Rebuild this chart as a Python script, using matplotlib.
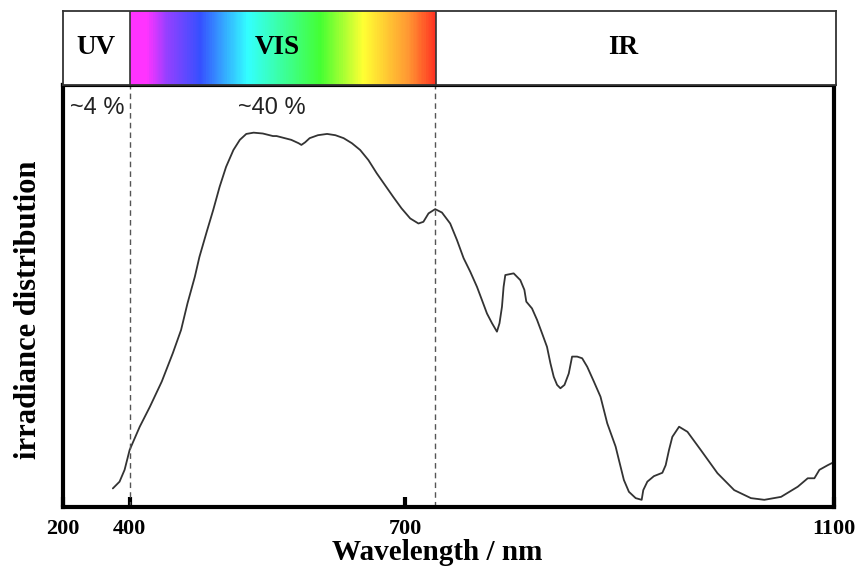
import numpy as np
import matplotlib
matplotlib.use("Agg")
import matplotlib.pyplot as plt
from matplotlib.colors import LinearSegmentedColormap

# irradiance curve (wavelength in nm, relative irradiance)
wavelength = [350, 370, 385, 400, 411, 422, 435, 447, 456, 463, 471, 476, 484, 491,
              498, 505, 513, 520, 527, 535, 545, 556, 560, 576, 584, 587, 591, 596,
              605, 615, 624, 633, 642, 651, 660, 669, 678, 687, 696, 704.7, 712.4,
              717, 721.8, 728, 734.3, 742, 748.3, 754.5, 760.7, 767, 771.6, 776.3,
              781, 785.6, 788, 790.3, 791.8, 793.4, 801.2, 807.4, 811.2, 813, 818.3,
              823, 827.7, 832.3, 835.5, 838.6, 841.7, 844.8, 848.6, 852.6, 855.7,
              860.4, 865.1, 869.8, 876, 882.2, 888.5, 896.3, 899.4, 904, 908.7, 915,
              920.6, 922.1, 925.9, 932, 939.9, 943, 946.1, 949.2, 955.5, 963.3,
              975.7, 991.3, 1006.9, 1022.5, 1035, 1050.6, 1066.2, 1075.5, 1081.7,
              1086.4, 1094.2, 1098.9]
irradiance = [0.044, 0.060, 0.088, 0.135, 0.190, 0.237, 0.297, 0.364, 0.419, 0.482,
              0.545, 0.592, 0.652, 0.703, 0.758, 0.805, 0.845, 0.869, 0.883, 0.886,
              0.884, 0.878, 0.878, 0.869, 0.861, 0.857, 0.863, 0.873, 0.880, 0.883,
              0.880, 0.873, 0.861, 0.845, 0.821, 0.790, 0.762, 0.734, 0.707, 0.683,
              0.671, 0.675, 0.695, 0.705, 0.697, 0.671, 0.632, 0.589, 0.557, 0.521,
              0.490, 0.458, 0.435, 0.415, 0.435, 0.474, 0.521, 0.549, 0.553, 0.537,
              0.514, 0.486, 0.470, 0.443, 0.411, 0.379, 0.340, 0.308, 0.289, 0.281,
              0.289, 0.316, 0.356, 0.356, 0.352, 0.332, 0.297, 0.261, 0.198, 0.143,
              0.111, 0.064, 0.036, 0.021, 0.017, 0.040, 0.060, 0.073, 0.081, 0.099,
              0.135, 0.166, 0.190, 0.178, 0.135, 0.080, 0.040, 0.021, 0.017, 0.024,
              0.048, 0.068, 0.068, 0.088, 0.099, 0.105]

# band boundaries and labels
uv_vis = 400
vis_ir = 728
band_labels = ["UV", "VIS", "IR"]
band_centers = [300, 560, 902]
share_labels = ["~4 %", "~40 %"]
share_x = [304, 555]

# spectrum colour stops (nm)
spec_nm = [400, 418, 440, 476, 528, 607, 654, 702, 728]
spec_col = ["#ff33ff", "#ff33ff", "#9440ff", "#3650ff", "#33ffff", "#44ff33",
            "#ffff33", "#ff9933", "#ff3322"]

xticks = [200, 400, 700, 1100]

# axis is not linear in the original: piecewise mapping nm -> pixel
NM = [0, 200, 400, 700, 1100, 1300]
PX = [-4, 63, 130, 405, 833, 1047]

def fwd(x):
    return np.interp(x, NM, PX)

def inv(p):
    return np.interp(p, PX, NM)

serif = "Liberation Serif"

fig = plt.figure(figsize=(8.56, 5.73), dpi=100)
W, H = 856, 573

def box(l, r, t, b):
    return [l / W, 1 - b / H, (r - l) / W, (b - t) / H]

ax = fig.add_axes(box(62.5, 834, 84.5, 507))
band = fig.add_axes(box(62.5, 836, 10.5, 84.5))

for a in (ax, band):
    a.set_xscale("function", functions=(fwd, inv))
    a.set_xlim(200, 1100)

# main curve
ax.plot(wavelength, irradiance, color="#333333", lw=1.3,
        solid_joinstyle="round", solid_capstyle="round")
ax.set_ylim(0, 1)
ax.set_yticks([])
for x in (uv_vis, vis_ir):
    ax.axvline(x, color="#555555", lw=1.0, dashes=(4, 3))
for s in ax.spines.values():
    s.set_linewidth(3)
    s.set_color("black")

ax.set_xticks(xticks)
ax.set_xticklabels([str(t) for t in xticks], fontfamily=serif, fontweight="bold", fontsize=16)
ax.tick_params(axis="x", direction="in", length=7, width=3, pad=9)

for lab, x in zip(share_labels, share_x):
    ax.text(x, 0.945, lab, ha="center", va="center", fontsize=17,
            fontfamily="Liberation Sans", color="#222222")

fig.text(437 / W, 1 - 553 / H, "Wavelength / nm", ha="center", va="center",
         fontfamily=serif, fontweight="bold", fontsize=21)
fig.text(29 / W, 1 - 310 / H, "irradiance distribution", ha="center", va="center",
         rotation=90, fontfamily=serif, fontweight="bold", fontsize=22)

# spectrum band on top
cmap = LinearSegmentedColormap.from_list(
    "spec", list(zip([(v - spec_nm[0]) / (spec_nm[-1] - spec_nm[0]) for v in spec_nm], spec_col)))
edges = np.linspace(uv_vis, vis_ir, 400)
mids = (edges[:-1] + edges[1:]) / 2
band.pcolormesh(edges, [0, 1], mids[None, :], cmap=cmap,
                vmin=spec_nm[0], vmax=spec_nm[-1], shading="flat")
band.axvline(uv_vis, color="#333333", lw=1.2)
band.axvline(vis_ir, color="#333333", lw=1.2)
band.set_ylim(0, 1)
band.set_xticks([])
band.set_yticks([])
band.minorticks_off()
for s in band.spines.values():
    s.set_linewidth(1.3)
    s.set_color("#333333")
for lab, x in zip(band_labels, band_centers):
    band.text(x, 0.5, lab, ha="center", va="center", fontfamily=serif,
              fontweight="bold", fontsize=19.5)

ax.minorticks_off()
fig.savefig("out.png", dpi=100)
